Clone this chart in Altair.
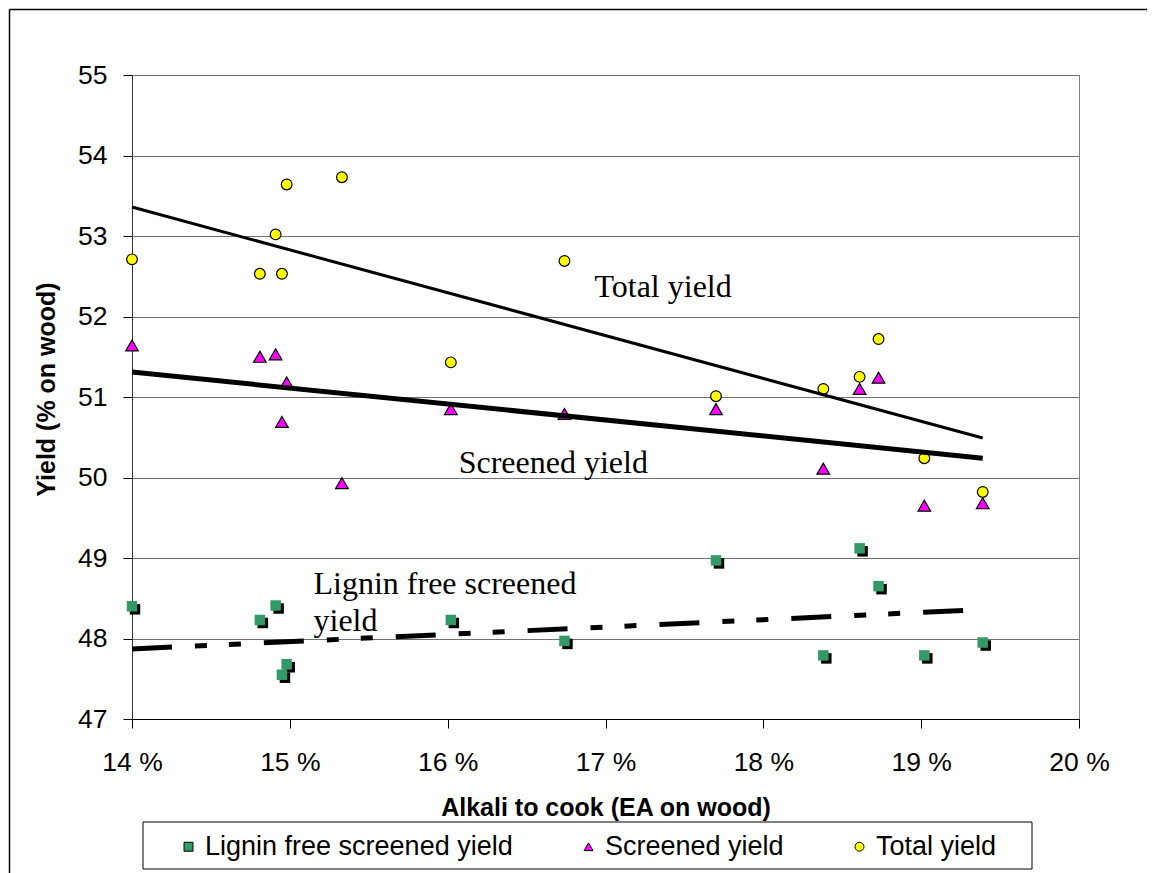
import altair as alt
import pandas as pd

# ---- data ----
alkali = [14.00, 14.81, 14.91, 14.95, 14.98, 15.33, 16.02, 16.74, 17.70, 18.38, 18.61, 18.73, 19.02, 19.39]
total_yield = [52.71, 52.53, 53.02, 52.53, 53.64, 53.73, 51.43, 52.69, 51.01, 51.10, 51.25, 51.72, 50.24, 49.82]
screened_yield = [51.64, 51.50, 51.53, 50.69, 51.18, 49.93, 50.85, 50.79, 50.85, 50.11, 51.10, 51.24, 49.65, 49.68]
lignin_free = [48.40, 48.23, 48.41, 47.55, 47.68, None, 48.23, 47.97, 48.97, 47.79, 49.12, 48.65, 47.79, 47.95]

series_names = ["Lignin free screened yield", "Screened yield", "Total yield"]
series_colors = ["#339966", "#FF00FF", "#FFFF00"]
series_shapes = ["square", "triangle-up", "circle"]

trend_x = [14.00, 19.39]
total_trend = [53.36, 50.49]
screened_trend = [51.31, 50.24]
lignin_trend = [47.87, 48.36]

ann_text = ["Total yield", "Screened yield", "Lignin free screened", "yield"]
ann_x = [16.93, 16.07, 15.15, 15.15]
ann_y = [52.24, 50.06, 48.55, 48.09]

x_ticks = [14, 15, 16, 17, 18, 19, 20]
y_ticks = [47, 48, 49, 50, 51, 52, 53, 54, 55]

# ---- tables ----
def series_df(name, values):
    rows = [{"x": a, "y": v, "series": name} for a, v in zip(alkali, values) if v is not None]
    return pd.DataFrame(rows)

df_lig = series_df(series_names[0], lignin_free)
df_scr = series_df(series_names[1], screened_yield)
df_tot = series_df(series_names[2], total_yield)

tr_tot = pd.DataFrame({"x": trend_x, "y": total_trend})
tr_scr = pd.DataFrame({"x": trend_x, "y": screened_trend})
tr_lig = pd.DataFrame({"x": trend_x, "y": lignin_trend})
ann = pd.DataFrame({"t": ann_text, "x": ann_x, "y": ann_y})

W, H = 947, 644
SANS = "Liberation Sans"

xs = alt.Scale(domain=[14, 20], nice=False, zero=False)
ys = alt.Scale(domain=[47, 55], nice=False, zero=False)

X = alt.X("x:Q", scale=xs, axis=alt.Axis(
    values=x_ticks, labelExpr="datum.value + ' %'", grid=False,
    tickSize=9, tickColor="black", domainColor="black",
    labelFont=SANS, labelFontSize=26.5, labelColor="black", labelPadding=21,
    labelFlush=False,
    title="Alkali to cook (EA on wood)", titleFont=SANS, titleFontSize=25,
    titleFontWeight="bold", titleColor="black",
    titleX=473.5, titleY=96, titleAlign="center", titleBaseline="alphabetic"))
Y = alt.Y("y:Q", scale=ys, axis=alt.Axis(
    values=y_ticks, grid=True, gridColor="#707070", gridWidth=1,
    tickSize=9, tickColor="black", domainColor="#333333",
    labelFont=SANS, labelFontSize=26.5, labelColor="black", labelPadding=16,
    title="Yield (% on wood)", titleFont=SANS, titleFontSize=25,
    titleFontWeight="bold", titleColor="black",
    titleX=-86, titleY=314, titleAngle=270, titleAlign="center", titleBaseline="middle"))

color_scale = alt.Scale(domain=series_names, range=series_colors)
shape_scale = alt.Scale(domain=series_names, range=series_shapes)
legend = alt.Legend(title=None, orient="none", legendX=43, legendY=758,
                    direction="horizontal", columns=3, columnPadding=62,
                    labelFont=SANS, labelFontSize=27, labelColor="black",
                    labelOffset=3, symbolSize=80, symbolStrokeColor="black",
                    symbolStrokeWidth=1, padding=0, labelLimit=500)

def pts(df, size, stroke, sw):
    return alt.Chart(df).mark_point(filled=True, size=size, opacity=1,
                                    stroke=stroke, strokeWidth=sw).encode(
        x=X, y=Y,
        color=alt.Color("series:N", scale=color_scale, legend=legend),
        shape=alt.Shape("series:N", scale=shape_scale, legend=legend))

one = pd.DataFrame({"a": [0]})
frame_top = alt.Chart(one).mark_rule(color="black", strokeWidth=1.5).encode(
    x=alt.value(-122.5), x2=alt.value(1100), y=alt.value(-65.5))
frame_left = alt.Chart(one).mark_rule(color="black", strokeWidth=1.5).encode(
    x=alt.value(-122.5), y=alt.value(-65.5), y2=alt.value(900))

legend_box = alt.Chart(one).mark_rect(
    fill="white", fillOpacity=0, stroke="black", strokeWidth=1).encode(
    x=alt.value(11), x2=alt.value(900), y=alt.value(747), y2=alt.value(794))

shadow = alt.Chart(df_lig).mark_square(size=110, color="black", opacity=1,
                                       xOffset=3, yOffset=3).encode(x=X, y=Y)

p_lig = pts(df_lig, 110, "#339966", 0)
p_scr = pts(df_scr, 160, "black", 1.2)
p_tot = pts(df_tot, 115, "black", 1.2)

l_tot = alt.Chart(tr_tot).mark_line(color="black", strokeWidth=3).encode(x=X, y=Y)
l_scr = alt.Chart(tr_scr).mark_line(color="black", strokeWidth=5).encode(x=X, y=Y)
l_lig = alt.Chart(tr_lig).mark_line(color="black", strokeWidth=5,
                                    strokeDash=[40, 23, 12, 22, 12, 23],
                                    strokeCap="butt").encode(x=X, y=Y)

texts = alt.Chart(ann).mark_text(align="left", baseline="alphabetic",
                                 font="Liberation Serif", fontSize=32,
                                 color="black").encode(x=X, y=Y, text="t:N")

chart = alt.layer(frame_top, frame_left, legend_box, shadow, p_lig, p_scr, p_tot,
                  l_lig, l_scr, l_tot, texts).properties(
    width=W, height=H,
    autosize=alt.AutoSizeParams(type="none"),
    padding={"left": 124, "top": 67, "right": 68, "bottom": 154},
    background="white",
).configure_view(stroke="#808080", strokeWidth=1)

chart.save("out.html", embed_options={"renderer": "svg", "actions": False})
